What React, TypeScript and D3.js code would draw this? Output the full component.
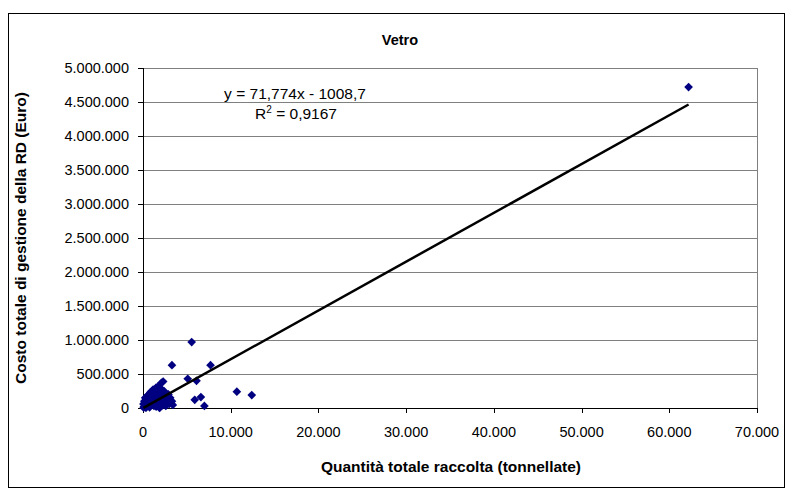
import React from 'react';
import * as d3 from 'd3';

// quantità raccolta (tonnellate) / costo totale (Euro)
const quantities = [
  62200, 5550, 3300, 7700, 5100, 6100, 10700, 12400, 5900, 6600, 7000, 3300, 2100,
  100, 200, 300, 400, 500, 600, 700, 800, 900, 1000, 1100, 1200, 1300, 1400, 1500,
  1600, 1700, 1800, 1900, 2000, 2100, 2200, 2400, 2500, 2700, 2900, 3100, 150, 250,
  350, 450, 550, 650, 750, 850, 950, 1150, 1250, 1450, 1650, 1750, 1850, 2050, 2300,
  2600, 3000, 3400, 1900, 50, 80, 2300, 1500, 1000
];
const costs = [
  4720000, 970000, 630000, 630000, 430000, 400000, 240000, 190000, 120000, 160000, 30000, 100000, 370000,
  20000, 50000, 10000, 80000, 30000, 120000, 60000, 150000, 40000, 100000, 180000, 70000, 220000, 130000, 20000,
  260000, 160000, 90000, 300000, 200000, 130000, 40000, 250000, 170000, 110000, 200000, 150000, 100000, 150000,
  5000, 170000, 60000, 200000, 10000, 230000, 120000, 270000, 30000, 190000, 60000, 320000, 10000, 280000, 80000,
  30000, 60000, 45000, 0, 60000, 5000, 390000, 300000, 250000
];

const xTicks = [0, 10000, 20000, 30000, 40000, 50000, 60000, 70000];
const yTicks = [0, 500000, 1000000, 1500000, 2000000, 2500000, 3000000, 3500000, 4000000, 4500000, 5000000];

const slope = 71.774;
const intercept = -1008.7;

const itLocale = d3.formatLocale({ decimal: ',', thousands: '.', grouping: [3], currency: ['', ' €'] });
const fmt = itLocale.format(',d');

const W = 786;
const H = 488;
const plot = { left: 143, right: 757, top: 68, bottom: 408 };
const font = '"Liberation Sans", Arial, sans-serif';

export default function App() {
  const x = d3.scaleLinear().domain([0, 70000]).range([plot.left, plot.right]);
  const y = d3.scaleLinear().domain([0, 5000000]).range([plot.bottom, plot.top]);

  const points = quantities.map((q, i) => ({ q, c: costs[i] }));
  const xMin = d3.min(quantities) as number;
  const xMax = d3.max(quantities) as number;
  const trend = d3.line<number>()
    .x(d => x(d))
    .y(d => y(slope * d + intercept));

  const diamond = d3.symbol().type(d3.symbolDiamond2).size(48)() || '';

  return (
    <svg width={W} height={H} style={{ position: 'absolute', left: 0, top: 0, background: '#fff' }} fontFamily={font}>
      {/* outer chart border */}
      <rect x={8.5} y={13.5} width={776} height={474} fill="#fff" stroke="#000" strokeWidth={1} />

      <text x={400} y={45} textAnchor="middle" fontSize={14.5} fontWeight="bold">Vetro</text>

      {/* gridlines */}
      {yTicks.map(t => (
        <line key={t} x1={plot.left} x2={plot.right} y1={Math.round(y(t)) + 0.5} y2={Math.round(y(t)) + 0.5}
          stroke="#808080" strokeWidth={1} />
      ))}
      {/* plot area border */}
      <line x1={plot.right + 0.5} x2={plot.right + 0.5} y1={plot.top} y2={plot.bottom} stroke="#808080" />

      {/* y axis */}
      <line x1={plot.left + 0.5} x2={plot.left + 0.5} y1={plot.top} y2={plot.bottom + 0.5} stroke="#000" />
      {yTicks.map(t => (
        <g key={t}>
          <line x1={plot.left - 5} x2={plot.left} y1={Math.round(y(t)) + 0.5} y2={Math.round(y(t)) + 0.5} stroke="#000" />
          <text x={plot.left - 14} y={y(t) + 5} textAnchor="end" fontSize={14.5}>{fmt(t)}</text>
        </g>
      ))}

      {/* x axis */}
      <line x1={plot.left} x2={plot.right + 1} y1={plot.bottom + 0.5} y2={plot.bottom + 0.5} stroke="#000" />
      {xTicks.map(t => (
        <g key={t}>
          <line x1={Math.round(x(t)) + 0.5} x2={Math.round(x(t)) + 0.5} y1={plot.bottom} y2={plot.bottom + 5} stroke="#000" />
          <text x={x(t)} y={plot.bottom + 29} textAnchor="middle" fontSize={14.5}>{fmt(t)}</text>
        </g>
      ))}

      {/* points */}
      {points.map((p, i) => (
        <path key={i} d={diamond} transform={`translate(${x(p.q)},${y(p.c)})`} fill="#000080" />
      ))}

      {/* trendline */}
      <path d={trend([xMin, xMax]) || ''} fill="none" stroke="#000" strokeWidth={2.5} />

      {/* equation */}
      <text x={295} y={99} textAnchor="middle" fontSize={15.5}>y = 71,774x - 1008,7</text>
      <text x={296} y={119} textAnchor="middle" fontSize={15.5}>
        R<tspan fontSize={10} dy={-6}>2</tspan><tspan dy={6}> = 0,9167</tspan>
      </text>

      {/* axis titles */}
      <text x={451} y={472} textAnchor="middle" fontSize={15.5} fontWeight="bold">Quantità totale raccolta (tonnellate)</text>
      <text transform={`translate(26,${(plot.top + plot.bottom) / 2}) rotate(-90)`} textAnchor="middle" fontSize={15.5} fontWeight="bold">
        Costo totale di gestione della RD (Euro)
      </text>
    </svg>
  );
}
